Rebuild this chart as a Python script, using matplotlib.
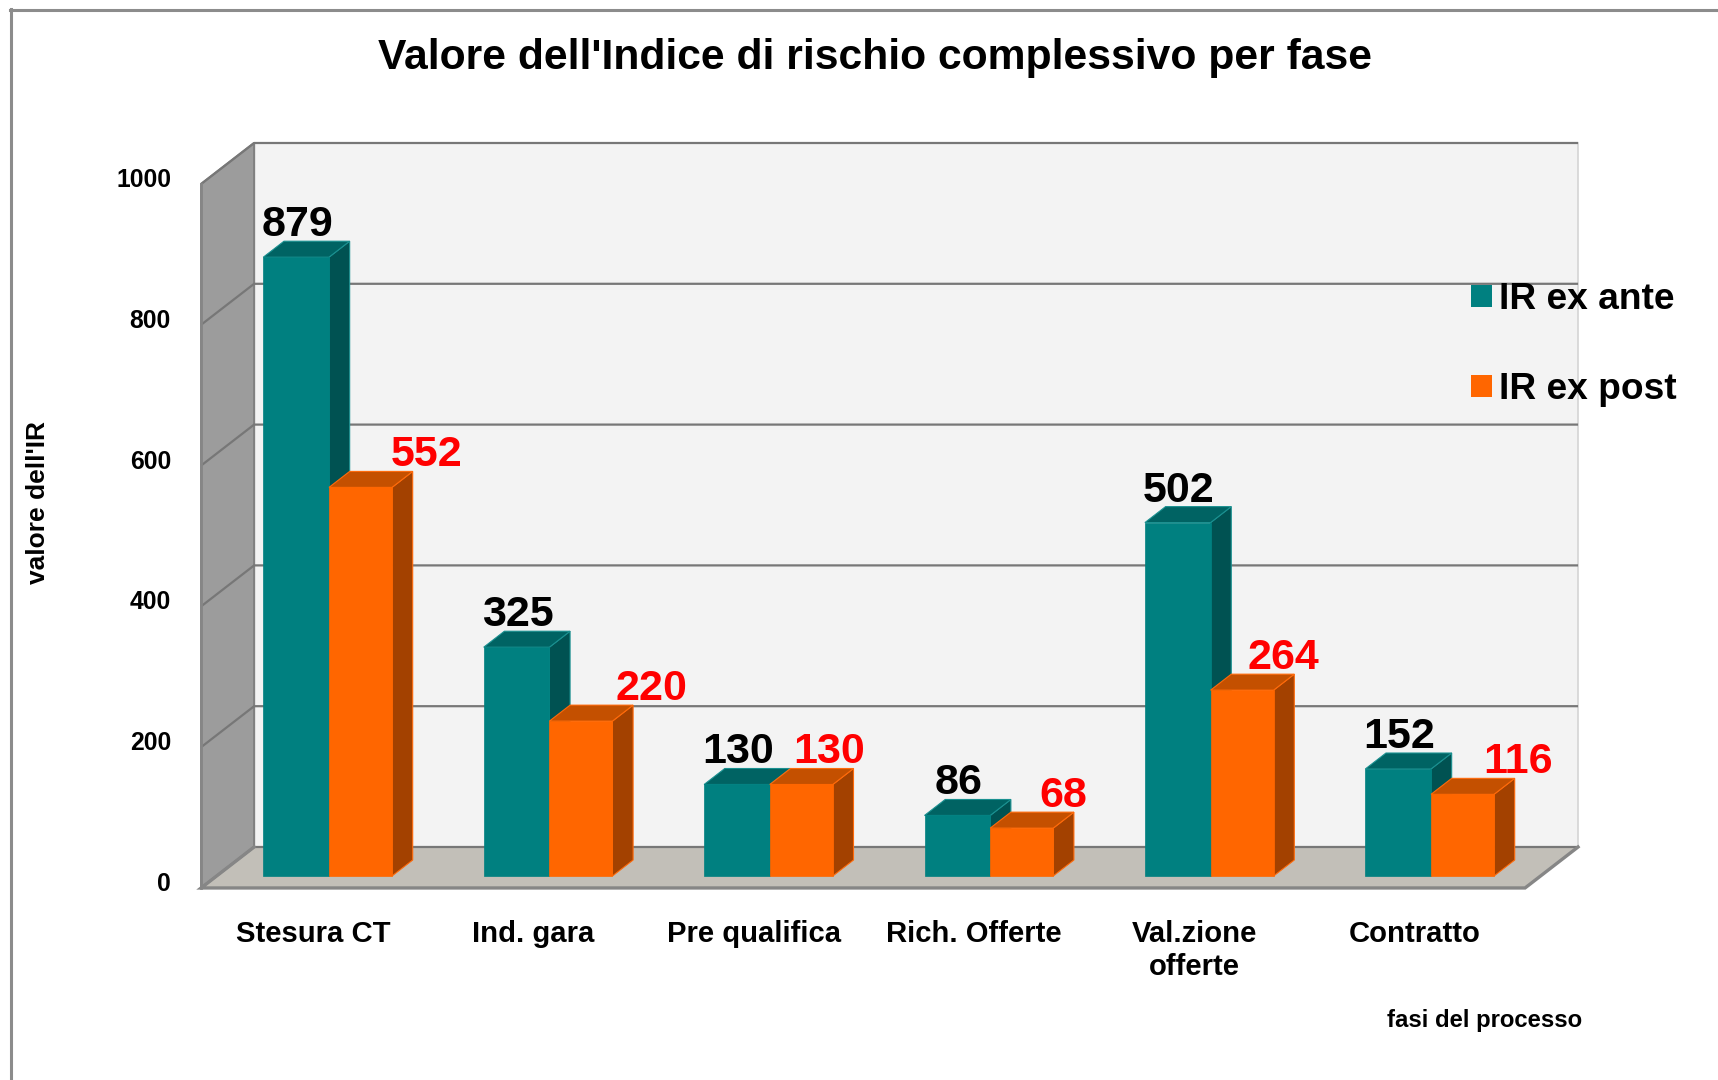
#!/usr/bin/env python3
"""Valore dell'Indice di rischio complessivo per fase - fake 3D bar chart."""

import numpy as np
import matplotlib.pyplot as plt
from matplotlib.patches import Polygon, Patch
from matplotlib.lines import Line2D

plt.rcParams['font.family'] = ['Liberation Sans', 'DejaVu Sans']
plt.rcParams['font.weight'] = 'bold'

# data
categories = ['Stesura CT', 'Ind. gara', 'Pre qualifica', 'Rich. Offerte',
              'Val.zione\nofferte', 'Contratto']
ex_ante = [879, 325, 130, 86, 502, 152]
ex_post = [552, 220, 130, 68, 264, 116]
y_ticks = [0, 200, 400, 600, 800, 1000]

# red labels sit to the right of their bars by a varying amount (pixels)
post_label_dx = [66, 71, 28, 42, 41, 55]

W, H = 1718, 1080
PX_X0, PX_PER_CAT = 329, 220.4   # pixel of category 0, pixels per category
PX_Y0, PX_PER_VAL = 876, 0.704   # pixel of value 0 on the bar front plane

# oblique projection: depth d is in value units, it shifts right and up
DEPTH_K = (53 / 58.2) / PX_PER_CAT
D_FRONT, D_BACK = -17.0, 41.2
BAR_DEPTH = 22.7
X_LEFT, X_RIGHT = -0.51, 5.497
V_TOP = 1000

TEAL, TEAL_SIDE, TEAL_TOP = '#008080', '#005252', '#006363'
ORANGE, ORANGE_SIDE, ORANGE_TOP = '#FF6600', '#A34100', '#C45000'
GRID = '#777777'


def proj(x, v, d=0.0):
    return (x + d * DEPTH_K, v + d)


def draw_bar(ax, x0, x1, v, face, side, top, edge):
    # side and top first, front is a normal bar
    ax.add_patch(Polygon([proj(x1, 0), proj(x1, 0, BAR_DEPTH), proj(x1, v, BAR_DEPTH), proj(x1, v)],
                         fc=side, ec=edge, lw=0.8, zorder=4))
    ax.add_patch(Polygon([proj(x0, v), proj(x0, v, BAR_DEPTH), proj(x1, v, BAR_DEPTH), proj(x1, v)],
                         fc=top, ec=edge, lw=0.8, zorder=4))
    ax.bar(x0, v, x1 - x0, align='edge', color=face, edgecolor=face, lw=0.5, zorder=4)


fig = plt.figure(figsize=(W / 100, H / 100), dpi=100, facecolor='white')
ax = fig.add_axes([0, 0, 1, 1])
ax.set_xlim(-PX_X0 / PX_PER_CAT, (W - PX_X0) / PX_PER_CAT)
ax.set_ylim((PX_Y0 - H) / PX_PER_VAL, PX_Y0 / PX_PER_VAL)
ax.axis('off')

# back wall, left wall, floor
ax.add_patch(Polygon([proj(X_LEFT, 0, D_BACK), proj(X_RIGHT, 0, D_BACK),
                      proj(X_RIGHT, V_TOP, D_BACK), proj(X_LEFT, V_TOP, D_BACK)],
                     fc='#F3F3F3', ec='#D4D4D4', lw=1.2, zorder=1))
ax.add_patch(Polygon([proj(X_LEFT, 0, D_FRONT), proj(X_LEFT, 0, D_BACK),
                      proj(X_LEFT, V_TOP, D_BACK), proj(X_LEFT, V_TOP, D_FRONT)],
                     fc='#9C9C9C', ec='#808080', lw=1.5, zorder=1))
ax.add_patch(Polygon([proj(X_LEFT, 0, D_FRONT), proj(X_RIGHT, 0, D_FRONT),
                      proj(X_RIGHT, 0, D_BACK), proj(X_LEFT, 0, D_BACK)],
                     fc='#C2BFB8', ec='none', zorder=2))

# grid lines run along the left wall and then the back wall
for t in y_ticks:
    pts = [proj(X_LEFT, t, D_FRONT), proj(X_LEFT, t, D_BACK), proj(X_RIGHT, t, D_BACK)]
    ax.plot(*zip(*pts), color=GRID, lw=1.6, zorder=2.5, solid_capstyle='butt')

# floor edges
pts = [proj(X_LEFT, 0, D_BACK), proj(X_LEFT, 0, D_FRONT), proj(X_RIGHT, 0, D_FRONT), proj(X_RIGHT, 0, D_BACK)]
ax.plot(*zip(*pts), color='#868686', lw=2.4, zorder=3, solid_joinstyle='miter')
ax.plot(*zip(*[proj(X_LEFT, 0, D_FRONT), proj(X_LEFT, V_TOP, D_FRONT)]), color='#868686', lw=2.0, zorder=3)

# bars
teal_w, orange_w = 0.298, 0.286
xs = np.arange(len(categories))
for i in xs:
    draw_bar(ax, i - teal_w, i, ex_ante[i], TEAL, TEAL_SIDE, TEAL_TOP, '#1A9090')
    draw_bar(ax, i, i + orange_w, ex_post[i], ORANGE, ORANGE_SIDE, ORANGE_TOP, '#FF6A0A')

# value labels
for i in xs:
    ax.annotate(str(ex_ante[i]), xy=(i - teal_w / 2, ex_ante[i]), xytext=(1, 32),
                textcoords='offset pixels', ha='center', va='center',
                fontsize=31, color='black', zorder=6)
    ax.annotate(str(ex_post[i]), xy=(i + orange_w / 2, ex_post[i]), xytext=(post_label_dx[i], 32),
                textcoords='offset pixels', ha='center', va='center',
                fontsize=31, color='#FF0000', zorder=6)

# y tick labels
for t in y_ticks:
    ax.text((171 - PX_X0) / PX_PER_CAT, t - 11.5, str(t), ha='right', va='center', fontsize=17.8, color='black')

# category labels
for i, c in zip(xs, categories):
    ax.text(i - 16 / PX_PER_CAT, (PX_Y0 - 920) / PX_PER_VAL, c, ha='center', va='top',
            fontsize=21.1, color='black', linespacing=1.22)

fig.text(875 / W, 1 - 58 / H, "Valore dell'Indice di rischio complessivo per fase",
         ha='center', va='center', fontsize=30.7, color='black')
fig.text(38 / W, 1 - 503 / H, "valore dell'IR", rotation=90, ha='center', va='center', fontsize=19)
fig.text(1582 / W, 1 - 1021 / H, 'fasi del processo', ha='right', va='center', fontsize=17.2)

handles = [Patch(fc=TEAL, label='IR ex ante'), Patch(fc=ORANGE, label='IR ex post')]
ax.legend(handles=handles, loc='upper left', bbox_to_anchor=(1471 / W, 1 - 282 / H),
          frameon=False, fontsize=26.7, handlelength=0.56, handleheight=0.56,
          handletextpad=0.2, labelspacing=1.49, borderpad=0, borderaxespad=0)

# outer frame, only top and left are in the picture
for xy in [([11, 11], [9, H]), ([10, W], [10, 10])]:
    fig.add_artist(Line2D(np.array(xy[0]) / W, 1 - np.array(xy[1]) / H, color='#8C8C8C', lw=2.2))

plt.savefig('out.png', dpi=100)
print('Saved: out.png')
